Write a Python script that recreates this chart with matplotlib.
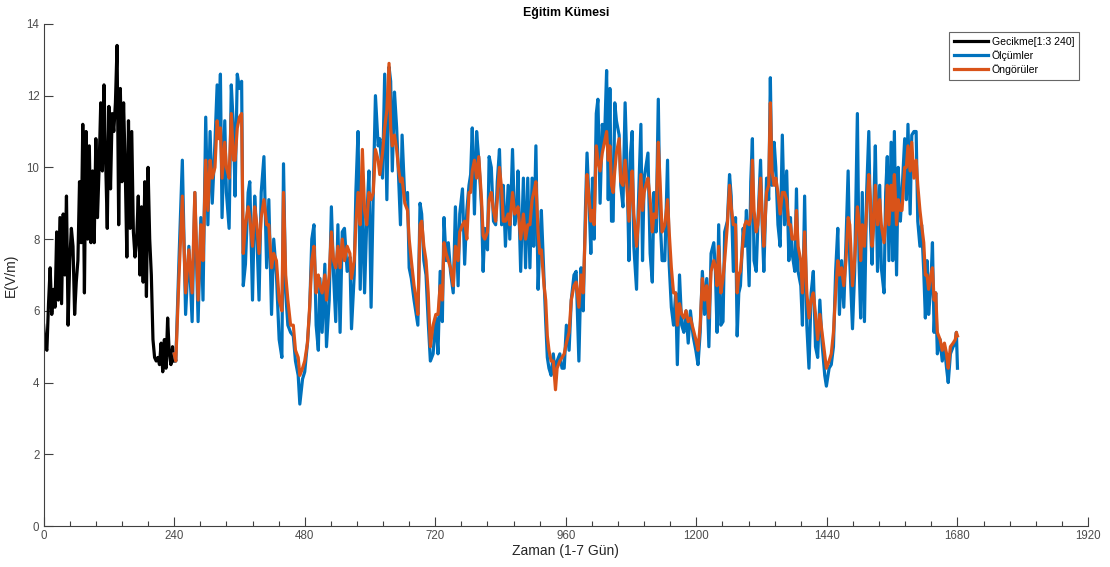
import numpy as np
import matplotlib
matplotlib.use("Agg")
import matplotlib.pyplot as plt
from matplotlib.ticker import MultipleLocator

plt.rcParams['font.family'] = ['Liberation Sans', 'DejaVu Sans']

# ---- data ----
gecikme_adim = 3
gecikme = [5.6, 5.0, 4.9, 6.2, 7.2, 5.9, 6.6, 6.1, 8.2, 6.3, 8.6, 6.2, 8.7, 7.0, 9.2, 5.6,
           7.4, 8.3, 7.8, 5.9, 6.8, 7.4, 9.6, 7.9, 11.2, 6.5, 11.0, 8.0, 10.6, 7.9, 9.9, 7.9,
           10.8, 8.6, 10.0, 11.8, 9.9, 12.3, 10.2, 8.3, 11.7, 9.4, 11.5, 11.0, 11.8, 13.4,
           8.4, 12.2, 9.6, 11.8, 10.0, 7.5, 11.3, 8.3, 11.0, 8.2, 7.5, 8.0, 9.2, 7.0, 8.9,
           6.8, 9.6, 6.4, 10.0, 8.0, 7.0, 5.2, 4.7, 4.6, 4.7, 4.5, 5.1, 4.3, 5.2, 4.4, 5.8,
           4.8, 4.5, 5.0, 4.6]

zaman = [240, 243, 249, 255, 261, 267, 273, 278, 284, 289, 293, 298, 302, 306, 310, 315,
         319, 322, 325, 328, 333, 336, 341, 345, 349, 352, 356, 360, 364, 367, 371, 376,
         379, 384, 388, 392, 396, 400, 405, 410, 414, 419, 423, 428, 433, 438, 441, 445,
         449, 454, 459, 463, 468, 471, 476, 480, 485,
         489, 493, 497, 501, 505, 508, 512, 517, 520, 525, 529, 533, 537, 541, 545, 549,
         553, 558, 563, 566, 571, 574, 578, 582, 586, 590, 594, 598, 602, 606, 610, 615,
         618, 623, 627, 631, 635, 638, 641, 645, 649, 653, 656, 659, 664, 669, 672, 676,
         681, 685, 688, 692, 695, 699, 703, 707, 711, 716,
         721, 725, 729, 733, 736, 740, 744, 748, 753, 757, 762, 765, 770, 774, 778, 782,
         785, 788, 792, 796, 800, 805, 808, 811, 816, 819, 823, 827, 831, 834, 838, 842,
         845, 849, 854, 857, 862, 866, 870, 872, 877, 882, 886, 890, 894, 898, 901, 905,
         909, 912, 915, 920, 923, 926, 929, 933, 937, 941, 944, 949,
         953, 957, 961, 966, 970, 975, 979, 984, 988, 992, 996, 999, 1003, 1006, 1009,
         1012, 1016, 1019, 1023, 1027, 1031, 1035, 1038, 1041, 1044, 1047, 1050, 1053,
         1058, 1061, 1065, 1069, 1073, 1076, 1079, 1082, 1085, 1090, 1093, 1098, 1101,
         1104, 1107, 1111, 1115, 1119, 1122, 1126, 1130, 1133, 1137, 1142, 1147, 1150,
         1154, 1158, 1162, 1165, 1169, 1173, 1177, 1181, 1185,
         1189, 1194, 1199, 1203, 1207, 1211, 1215, 1219, 1223, 1227, 1232, 1235, 1238,
         1241, 1245, 1249, 1252, 1257, 1261, 1264, 1268, 1272, 1275, 1278, 1281, 1286,
         1289, 1292, 1297, 1300, 1303, 1306, 1310, 1313, 1318, 1321, 1324, 1329, 1333,
         1336, 1339, 1343, 1346, 1350, 1354, 1358, 1362, 1366, 1370, 1373, 1376, 1381,
         1384, 1387, 1392, 1395, 1399, 1403, 1407, 1411, 1415, 1419, 1423, 1427, 1431,
         1436, 1439, 1444,
         1448, 1452, 1456, 1460, 1463, 1467, 1471, 1475, 1479, 1482, 1487, 1491, 1496,
         1499, 1502, 1505, 1509, 1513, 1517, 1520, 1523, 1526, 1529, 1533, 1537, 1540,
         1545, 1548, 1551, 1554, 1558, 1561, 1564, 1568, 1571, 1575, 1578, 1583, 1586,
         1589, 1593, 1596, 1600, 1604, 1607, 1611, 1614, 1618, 1621, 1624, 1627, 1631,
         1634, 1637, 1640, 1643, 1648, 1652, 1656, 1660, 1663, 1667, 1672, 1676, 1678, 1680]

olcumler = [4.8, 4.6, 7.5, 10.2, 5.9, 7.8, 5.7, 9.3, 5.7, 8.6, 6.3, 11.4, 8.4, 11.0, 9.0, 10.7,
            12.3, 11.1, 12.6, 8.6, 11.3, 9.3, 8.3, 12.3, 11.1, 9.2, 12.6, 12.2, 12.4, 6.7, 7.3, 9.3,
            9.6, 6.3, 9.2, 8.1, 6.3, 9.3, 10.3, 7.2, 9.1, 5.9, 8.0, 7.0, 5.2, 4.7, 10.1, 6.5,
            5.6, 5.4, 5.3, 4.6, 4.2, 3.4, 4.1, 4.3, 5.1,
            6.0, 8.0, 8.4, 5.6, 4.9, 6.9, 5.4, 7.3, 5.0, 6.3, 8.9, 7.0, 5.7, 8.4, 5.4, 8.2,
            8.3, 7.1, 7.5, 5.5, 7.0, 9.3, 11.0, 6.6, 9.5, 6.5, 8.5, 9.9, 6.1, 9.3, 12.0, 10.6,
            10.8, 9.7, 12.6, 9.1, 12.8, 12.4, 9.9, 12.1, 11.1, 9.6, 8.4, 10.9, 9.1, 9.3, 7.2, 6.9,
            6.3, 5.9, 5.6, 9.0, 8.7, 7.4, 7.0, 5.7, 4.6, 4.8,
            5.8, 4.8, 7.1, 5.7, 8.6, 7.4, 7.9, 7.1, 6.5, 8.9, 6.7, 8.7, 9.4, 7.3, 8.8, 9.5,
            9.8, 11.1, 8.7, 11.0, 10.2, 8.9, 7.1, 8.3, 7.7, 10.3, 10.0, 8.5, 8.4, 9.6, 10.5, 8.4,
            9.5, 7.8, 9.5, 8.0, 10.5, 8.4, 8.8, 9.9, 7.1, 9.7, 7.2, 9.7, 7.2, 9.7, 7.8, 10.6,
            6.6, 7.8, 8.8, 6.9, 5.7, 4.7, 4.4, 4.2, 4.8, 4.1, 4.6, 4.8,
            4.4, 4.4, 5.6, 4.9, 6.3, 7.0, 7.1, 4.6, 7.2, 6.0, 8.8, 10.4, 8.9, 7.6, 9.7,
            8.0, 11.5, 11.9, 9.0, 11.2, 10.7, 12.7, 9.1, 12.2, 8.5, 8.5, 11.8, 11.3,
            10.9, 9.5, 8.9, 11.8, 9.7, 7.4, 10.4, 11.0, 7.8, 6.6, 8.8, 11.2, 7.4,
            9.7, 10.0, 10.4, 7.6, 6.8, 9.3, 8.2, 11.9, 8.7, 7.4, 7.4, 10.2, 7.3,
            6.1, 5.6, 6.5, 4.5, 7.0, 5.6, 5.4, 6.0, 5.1,
            6.0, 5.3, 4.9, 4.5, 5.4, 7.1, 5.9, 6.9, 5.0, 7.6, 7.9, 7.1, 5.4,
            8.4, 5.6, 5.7, 8.2, 8.5, 9.8, 9.2, 7.1, 8.6, 5.3, 6.5, 6.7, 8.3,
            7.8, 8.8, 6.7, 9.6, 10.8, 7.4, 7.1, 8.4, 10.2, 8.4, 7.1, 9.7, 9.1,
            12.5, 9.5, 10.7, 10.0, 8.4, 7.8, 10.9, 8.4, 9.9, 7.4, 8.6, 7.6, 7.1,
            9.4, 7.1, 6.7, 5.6, 9.2, 5.6, 4.4, 6.5, 7.1, 5.0, 4.7, 6.3, 5.1,
            4.2, 3.9, 4.4,
            4.5, 5.0, 7.1, 8.3, 5.9, 7.4, 6.1, 7.9, 9.9, 7.4, 5.5, 7.1, 11.5,
            7.4, 5.8, 9.3, 5.7, 9.3, 11.0, 8.4, 7.3, 8.8, 10.6, 7.1, 9.5, 7.2,
            6.5, 9.3, 10.3, 7.4, 10.7, 7.4, 11.0, 7.0, 10.0, 8.5, 9.3, 10.8, 9.1,
            11.2, 8.7, 10.9, 11.0, 11.0, 8.5, 7.8, 8.4, 7.1, 5.8, 7.4, 5.9, 6.7,
            7.9, 5.4, 6.5, 4.8, 5.2, 4.6, 5.0, 4.4, 4.0, 4.8, 5.0, 5.1, 5.4, 4.4]

ongoruler = [4.8, 4.6, 7.0, 9.2, 6.5, 7.7, 6.5, 9.3, 6.3, 8.4, 7.4, 10.2, 8.8, 10.2, 9.7, 10.0,
             11.3, 10.8, 11.1, 9.7, 10.7, 10.0, 9.7, 11.5, 10.2, 10.2, 11.1, 11.4, 11.5, 7.6, 8.4, 8.9,
             8.6, 7.8, 8.9, 8.4, 7.6, 8.6, 9.1, 8.4, 8.4, 7.2, 7.6, 7.4, 6.3, 6.0, 9.3, 7.0,
             6.3, 5.6, 5.6, 4.9, 4.7, 4.2, 4.4, 4.6, 5.1,
             6.1, 7.4, 7.8, 6.5, 7.0, 6.7, 6.5, 7.0, 6.3, 7.0, 8.2, 7.4, 7.2, 7.8, 7.2, 8.0,
             7.4, 7.8, 7.6, 6.9, 7.4, 8.4, 9.3, 8.4, 10.5, 8.8, 8.4, 9.3, 9.1, 9.3, 10.5, 10.2,
             9.8, 10.4, 11.1, 11.6, 12.9, 11.1, 10.6, 10.9, 10.5, 9.9, 9.6, 9.7, 9.0, 8.8, 8.0, 7.4,
             6.7, 6.3, 5.9, 8.4, 8.5, 7.8, 7.4, 6.5, 5.0, 5.6,
             5.9, 5.9, 6.7, 6.3, 7.9, 7.6, 7.4, 7.2, 6.7, 7.8, 7.4, 8.2, 8.4, 8.5, 8.0, 9.3,
             9.3, 9.9, 10.2, 9.7, 10.3, 9.1, 8.1, 8.0, 8.2, 9.1, 9.3, 8.8, 8.5, 9.1, 10.0, 9.4,
             8.5, 8.5, 8.7, 8.4, 9.3, 8.7, 8.8, 8.9, 8.0, 8.7, 8.0, 8.4, 8.4, 9.1, 9.3, 9.6,
             8.2, 7.6, 7.7, 6.7, 6.3, 5.3, 4.9, 4.6, 4.6, 3.8, 4.4, 4.6,
             4.7, 4.8, 5.1, 5.4, 6.3, 6.7, 6.8, 6.1, 7.0, 6.5, 8.4, 9.8, 9.1, 8.5, 8.8,
             8.4, 10.6, 10.2, 9.9, 10.4, 10.7, 11.0, 10.2, 10.6, 9.5, 9.3, 9.9, 10.4,
             10.8, 9.6, 9.5, 10.2, 9.3, 8.5, 9.3, 9.9, 8.7, 7.8, 8.4, 9.8, 8.8,
             9.3, 9.5, 9.7, 9.1, 8.2, 8.7, 8.6, 10.7, 9.7, 8.2, 8.4, 9.1, 8.2,
             7.2, 6.5, 6.5, 5.6, 6.2, 5.9, 5.8, 6.0, 5.7,
             5.8, 5.5, 5.2, 4.9, 5.6, 6.9, 6.3, 6.7, 5.8, 7.1, 7.4, 7.2, 6.7,
             7.8, 6.5, 6.9, 7.4, 8.4, 9.5, 8.9, 8.4, 8.4, 6.5, 7.0, 7.1, 8.0,
             8.4, 8.5, 8.4, 8.6, 10.2, 8.8, 8.2, 8.4, 9.7, 8.6, 7.8, 9.3, 9.5,
             11.8, 9.9, 9.5, 9.7, 9.3, 8.7, 9.3, 9.3, 9.1, 8.4, 8.4, 8.0, 8.0,
             8.8, 7.8, 7.4, 6.5, 8.2, 6.5, 5.8, 6.3, 6.5, 5.9, 5.2, 5.9, 5.4,
             4.8, 4.4, 4.6,
             4.8, 5.4, 6.5, 7.4, 7.0, 7.2, 6.7, 7.4, 8.6, 8.4, 6.7, 7.4, 8.9,
             8.5, 7.4, 8.4, 7.8, 8.8, 9.8, 9.1, 7.8, 8.4, 9.5, 8.4, 9.1, 8.4,
             7.9, 8.5, 9.5, 8.4, 9.5, 8.8, 9.8, 8.4, 9.1, 8.8, 8.8, 10.0, 10.0,
             10.6, 9.9, 10.7, 9.7, 10.2, 9.5, 8.8, 8.4, 7.9, 7.0, 7.0, 6.6, 7.0,
             7.2, 6.3, 6.5, 5.4, 5.2, 4.9, 5.1, 4.8, 4.4, 5.0, 5.1, 5.2, 5.4, 5.3]

legend_labels = ['Gecikme[1:3 240]', 'Ölçümler', 'Öngörüler']
x_ticks = np.arange(0, 1921, 240)
y_ticks = np.arange(0, 15, 2)

# ---- plot ----
fig = plt.figure(figsize=(11.10, 5.67), dpi=100)
ax = fig.add_axes([0.0393, 0.0723, 0.9409, 0.8855])

t_gecikme = np.arange(len(gecikme)) * gecikme_adim
ax.plot(t_gecikme, gecikme, color='black', lw=2.3, label=legend_labels[0])
ax.plot(zaman, olcumler, color='#0072BD', lw=2.3, label=legend_labels[1])
ax.plot(zaman, ongoruler, color='#D95319', lw=2.3, label=legend_labels[2])

ax.set_xlim(0, 1920)
ax.set_ylim(0, 14)
ax.set_xticks(x_ticks)
ax.set_yticks(y_ticks)
ax.xaxis.set_minor_locator(MultipleLocator(48))
ax.tick_params(which='both', direction='in', colors='#404040', labelcolor='#4d4d4d',
               labelsize=8.3, pad=3)
ax.tick_params(which='major', length=6.5, width=0.8)
ax.tick_params(which='minor', length=3.6, width=0.8)
for s in ['top', 'right']:
    ax.spines[s].set_visible(False)
for s in ['left', 'bottom']:
    ax.spines[s].set_color('#404040')
    ax.spines[s].set_linewidth(0.8)

ax.set_xlabel('Zaman (1-7 Gün)', fontsize=10, color='#262626', labelpad=1)
ax.set_ylabel('E(V/m)', fontsize=10, color='#262626', labelpad=6)
ax.set_title('Eğitim Kümesi', fontsize=8.9, fontweight='bold', color='black', pad=6)

leg = ax.legend(loc='upper right', bbox_to_anchor=(0.9914, 0.984), fontsize=7.6,
                frameon=True, fancybox=False, edgecolor='#404040', handlelength=3.2,
                handletextpad=0.4, borderpad=0.45, labelspacing=0.3, borderaxespad=0.0)
leg.get_frame().set_linewidth(0.8)

fig.savefig('out.png', dpi=100, facecolor='white')
